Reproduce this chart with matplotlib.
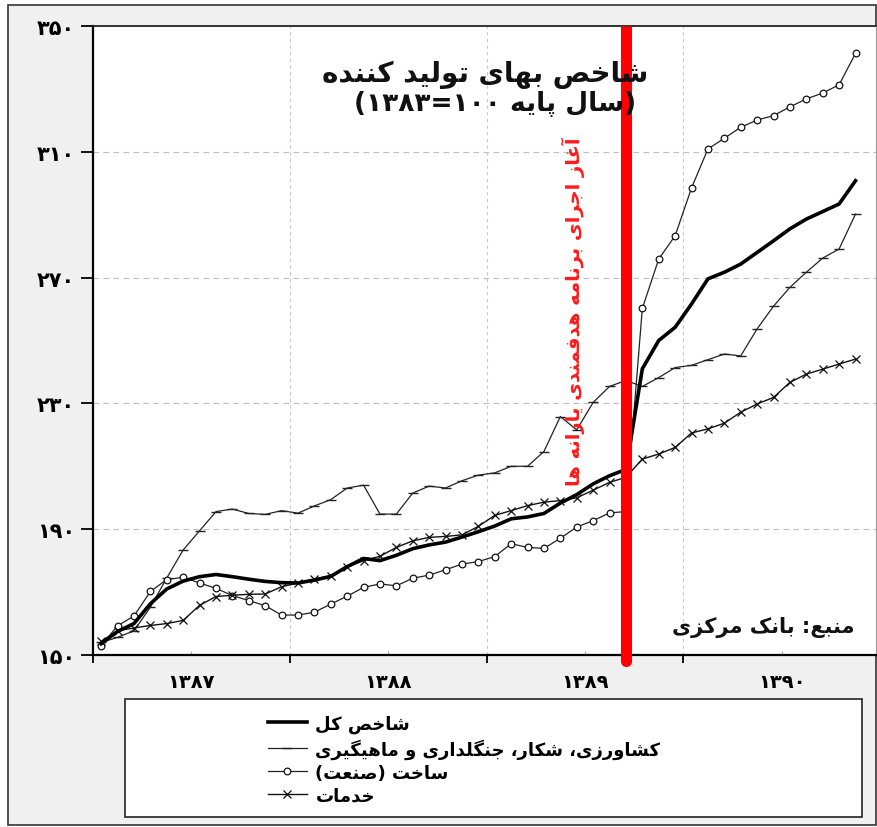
import numpy as np
import matplotlib
matplotlib.use("Agg")
import matplotlib.pyplot as plt
from matplotlib.patches import Rectangle
from matplotlib.lines import Line2D

# ---------------- data (monthly, Farvardin 1387 .. Bahman 1390) ----------------
total = [153.6, 157.5, 160.0, 166.3, 171.0, 173.5, 174.9, 175.6, 174.9, 174.1, 173.4, 173.0,
         172.9, 173.8, 175.0, 178.1, 180.7, 180.0, 181.7, 183.8, 185.0, 185.9, 187.5, 189.2,
         191.0, 193.3, 193.9, 195.0, 198.3, 201.0, 204.4, 207.0, 209.0, 241.0, 250.0, 254.2,
         261.6, 269.6, 271.7, 274.3, 278.0, 281.7, 285.5, 288.6, 291.0, 293.4, 300.8]
agriculture = [154.0, 155.6, 157.7, 165.2, 174.5, 183.4, 189.5, 195.6, 196.4, 195.0, 194.7, 195.9,
               195.1, 197.4, 199.4, 203.1, 204.0, 194.8, 194.8, 201.5, 203.7, 203.1, 205.4, 207.2,
               207.9, 210.0, 210.0, 214.7, 225.8, 221.6, 230.3, 235.4, 237.3, 235.4, 238.2, 241.4,
               242.1, 243.9, 245.7, 245.1, 253.7, 260.9, 266.9, 271.7, 276.2, 279.1, 290.2]
construction = [153.0, 159.3, 162.4, 170.2, 174.0, 174.7, 172.9, 171.2, 168.9, 167.3, 165.7, 162.7,
                162.7, 163.6, 166.2, 168.7, 171.5, 172.6, 172.0, 174.4, 175.4, 177.1, 178.9, 179.7,
                181.3, 185.4, 184.2, 183.9, 187.1, 190.7, 192.7, 195.2, 195.6, 260.2, 275.9, 283.3,
                298.5, 310.9, 314.3, 317.8, 320.1, 321.5, 324.3, 326.8, 328.7, 331.3, 341.3]
services = [154.3, 157.7, 158.6, 159.4, 160.0, 161.0, 165.8, 168.6, 169.0, 169.3, 169.4, 171.7,
            172.9, 174.2, 175.2, 177.9, 180.0, 181.4, 184.2, 186.3, 187.4, 187.7, 188.2, 190.9,
            194.4, 195.9, 197.5, 198.6, 199.1, 200.0, 202.4, 204.9, 206.5, 212.3, 213.9, 216.0,
            220.6, 221.9, 223.7, 227.2, 229.8, 231.9, 236.7, 239.3, 240.9, 242.5, 244.1]

series_names = ["شاخص کل", "کشاورزی، شکار، جنگلداری و ماهیگیری", "ساخت (صنعت)", "خدمات"]
year_labels = ["۱۳۸۷", "۱۳۸۸", "۱۳۸۹", "۱۳۹۰"]
y_ticks = [150, 190, 230, 270, 310, 350]
y_tick_labels = ["۱۵۰", "۱۹۰", "۲۳۰", "۲۷۰", "۳۱۰", "۳۵۰"]
subsidy_month = 32          # Azar 1389 (index from Farvardin 1387)
title_line1 = "شاخص بهای تولید کننده"
title_line2 = "(سال پایه ۱۰۰=۱۳۸۳)"
event_label = "آغاز اجرای برنامه هدفمندی یارانه ها"
source_label = "منبع: بانک مرکزی"

# ---------------- minimal Arabic/Persian shaping ----------------
FORMS = {
    'ا': ('\uFE8D', '\uFE8E', None, None), 'آ': ('\uFE81', '\uFE82', None, None),
    'ب': ('\uFE8F', '\uFE90', '\uFE91', '\uFE92'), 'پ': ('\uFB56', '\uFB57', '\uFB58', '\uFB59'),
    'ت': ('\uFE95', '\uFE96', '\uFE97', '\uFE98'), 'ث': ('\uFE99', '\uFE9A', '\uFE9B', '\uFE9C'),
    'ج': ('\uFE9D', '\uFE9E', '\uFE9F', '\uFEA0'), 'چ': ('\uFB7A', '\uFB7B', '\uFB7C', '\uFB7D'),
    'ح': ('\uFEA1', '\uFEA2', '\uFEA3', '\uFEA4'), 'خ': ('\uFEA5', '\uFEA6', '\uFEA7', '\uFEA8'),
    'د': ('\uFEA9', '\uFEAA', None, None), 'ذ': ('\uFEAB', '\uFEAC', None, None),
    'ر': ('\uFEAD', '\uFEAE', None, None), 'ز': ('\uFEAF', '\uFEB0', None, None),
    'ژ': ('\uFB8A', '\uFB8B', None, None),
    'س': ('\uFEB1', '\uFEB2', '\uFEB3', '\uFEB4'), 'ش': ('\uFEB5', '\uFEB6', '\uFEB7', '\uFEB8'),
    'ص': ('\uFEB9', '\uFEBA', '\uFEBB', '\uFEBC'), 'ض': ('\uFEBD', '\uFEBE', '\uFEBF', '\uFEC0'),
    'ط': ('\uFEC1', '\uFEC2', '\uFEC3', '\uFEC4'), 'ظ': ('\uFEC5', '\uFEC6', '\uFEC7', '\uFEC8'),
    'ع': ('\uFEC9', '\uFECA', '\uFECB', '\uFECC'), 'غ': ('\uFECD', '\uFECE', '\uFECF', '\uFED0'),
    'ف': ('\uFED1', '\uFED2', '\uFED3', '\uFED4'), 'ق': ('\uFED5', '\uFED6', '\uFED7', '\uFED8'),
    'ک': ('\uFB8E', '\uFB8F', '\uFB90', '\uFB91'), 'گ': ('\uFB92', '\uFB93', '\uFB94', '\uFB95'),
    'ل': ('\uFEDD', '\uFEDE', '\uFEDF', '\uFEE0'), 'م': ('\uFEE1', '\uFEE2', '\uFEE3', '\uFEE4'),
    'ن': ('\uFEE5', '\uFEE6', '\uFEE7', '\uFEE8'), 'و': ('\uFEED', '\uFEEE', None, None),
    'ه': ('\uFEE9', '\uFEEA', '\uFEEB', '\uFEEC'), 'ی': ('\uFBFC', '\uFBFD', '\uFBFE', '\uFBFF'),
}
MIRROR = {'(': ')', ')': '('}


def rtl(s):
    chars = list(s)
    shaped = []
    for i, c in enumerate(chars):
        if c not in FORMS:
            shaped.append(c)
            continue
        prev = chars[i - 1] if i > 0 else None
        nxt = chars[i + 1] if i + 1 < len(chars) else None
        jp = prev in FORMS and FORMS[prev][2] is not None
        jn = FORMS[c][2] is not None and nxt in FORMS
        iso, fin, ini, med = FORMS[c]
        shaped.append(med if (jp and jn) else fin if jp else ini if jn else iso)
    rev = shaped[::-1]
    out, run = [], []
    digits = set("۰۱۲۳۴۵۶۷۸۹0123456789")
    for c in rev:
        if c in digits:
            run.append(c)
        else:
            if run:
                out.extend(run[::-1]); run = []
            out.append(MIRROR.get(c, c))
    if run:
        out.extend(run[::-1])
    return ''.join(out)


plt.rcParams['font.family'] = ['DejaVu Sans']

# ---------------- figure ----------------
W, H = 878, 828
fig = plt.figure(figsize=(W / 100, H / 100), dpi=100, facecolor='white')
bg = Rectangle((8 / W, 2 / H), (876 - 8) / W, (822 - 2) / H,
               transform=fig.transFigure, facecolor='#f0f0f0',
               edgecolor='#333333', lw=1.2, zorder=-10)
fig.patches.append(bg)

ax = fig.add_axes([93 / W, 1 - 656 / H, (876 - 93) / W, (656 - 27) / H])
ax.set_zorder(2)
ax.set_facecolor('white')
ax.set_xlim(0, 47.75)
ax.set_ylim(150, 350)

x = np.arange(len(total)) + 0.5

ax.plot(x, agriculture, color='#222222', lw=0.9, marker='_', ms=7, mew=1.0, zorder=3)
ax.plot(x, construction, color='#222222', lw=0.9, marker='o', ms=4.8, mfc='white',
        mec='#111111', mew=0.9, zorder=3)
ax.plot(x, services, color='#111111', lw=1.0, marker='x', ms=6, mew=0.9, zorder=3)
ax.plot(x, total, color='black', lw=2.6, zorder=4, solid_joinstyle='round')

for yv in y_ticks[1:-1]:
    ax.axhline(yv, color='#bdbdbd', lw=0.8, ls=(0, (5, 4)), zorder=1)
for xv in [12, 24, 36]:
    ax.axvline(xv, color='#c8c8c8', lw=0.8, ls=(0, (3, 3)), zorder=1)

# subsidy reform marker (flat top, rounded bottom)
xr = subsidy_month + 0.5
ax.plot([xr, xr], [148, 350], color='#ff0000', lw=8, solid_capstyle='butt',
        clip_on=False, zorder=6)
ax.plot([xr], [148], marker='o', ms=8, color='#ff0000', mew=0, clip_on=False, zorder=6)

for side in ['left', 'bottom']:
    ax.spines[side].set_linewidth(1.6)
    ax.spines[side].set_color('black')
ax.spines['top'].set_linewidth(1.3)
ax.spines['top'].set_color('#222222')
ax.spines['right'].set_linewidth(0.8)
ax.spines['right'].set_color('#999999')

ax.set_yticks(y_ticks)
ax.set_yticklabels(y_tick_labels, fontsize=15, fontweight='bold')
ax.tick_params(axis='y', length=9, width=1.3, direction='out', pad=4)

ax.set_xticks([0, 12, 24, 36])
ax.set_xticklabels([])
ax.set_xticks([6, 18, 30, 42], minor=True)
ax.set_xticklabels(year_labels, minor=True, fontsize=14, fontweight='bold')
ax.tick_params(axis='x', which='major', length=6, width=1.3, direction='out')
ax.tick_params(axis='x', which='minor', length=3, width=0.8, direction='in',
               color='#aaaaaa', pad=12)

fig.text(485 / W, 1 - 75 / H, rtl(title_line1), ha='center', va='center',
         fontsize=20, fontweight='bold', color='#111111', zorder=10)
fig.text(495 / W, 1 - 104 / H, rtl(title_line2), ha='center', va='center',
         fontsize=19, fontweight='bold', color='#111111', zorder=10)
fig.text(573 / W, 1 - 312 / H, rtl(event_label), ha='center', va='center', rotation=90,
         fontsize=14, fontweight='bold', color='#ff1a1a', zorder=10)
fig.text(855 / W, 1 - 628 / H, rtl(source_label), ha='right', va='center',
         fontsize=15, fontweight='bold', color='#111111', zorder=10)

# legend box and entries
fig.patches.append(Rectangle((125 / W, 1 - 818 / H), (862 - 125) / W, (818 - 700) / H,
                             transform=fig.transFigure, facecolor='white',
                             edgecolor='#222222', lw=1.2, zorder=1))
handles = [
    Line2D([], [], color='black', lw=2.6),
    Line2D([], [], color='#222222', lw=0.9, marker='_', ms=7, mew=1.0),
    Line2D([], [], color='#222222', lw=0.9, marker='o', ms=4.8, mfc='white', mec='#111111', mew=0.9),
    Line2D([], [], color='#111111', lw=1.0, marker='x', ms=6, mew=0.9),
]
leg = fig.legend(handles, [rtl(s) for s in series_names], loc='upper left',
                 bbox_to_anchor=(255 / W, 1 - 703 / H), frameon=False, numpoints=1,
                 prop={'size': 13, 'weight': 'bold'}, handlelength=2.2,
                 handletextpad=0.45, labelspacing=0.28, borderpad=0.2)
leg.set_zorder(5)

fig.savefig('out.png', dpi=100, facecolor=fig.get_facecolor())
